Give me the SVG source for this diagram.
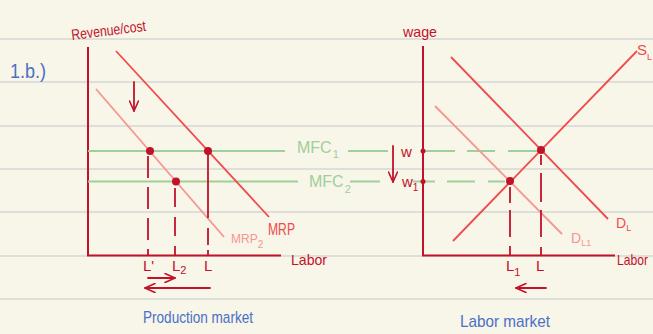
<svg xmlns="http://www.w3.org/2000/svg" width="653" height="334" viewBox="0 0 653 334">
  <defs>
    <marker id="head" viewBox="0 0 12 10" refX="11" refY="5" markerWidth="12" markerHeight="10" markerUnits="userSpaceOnUse" orient="auto">
      <path d="M1,0.5 L11,5 L1,9.5" fill="none" stroke="#c2122a" stroke-width="1.6" stroke-linecap="round" stroke-linejoin="round"/>
    </marker>
  </defs>
  <style>
    .rule { stroke: #d6d6d4; stroke-width: 1.6; }
    .axis { stroke: #c2122a; stroke-width: 2; fill: none; }
    .ink { stroke: #c2122a; stroke-width: 1.8; fill: none; stroke-linecap: round; }
    .dash { stroke: #c2122a; stroke-width: 1.8; fill: none; }
    .curve { stroke: #f04b4b; stroke-width: 1.8; fill: none; }
    .curve2 { stroke: #f7958f; stroke-width: 1.8; fill: none; }
    .mfc { stroke: #9fd09a; stroke-width: 2; fill: none; }
    .dot { fill: #c2122a; }
    text { font-family: "Liberation Sans", Arial, sans-serif; }
    .lbl { fill: #c2122a; font-size: 15px; }
    .red { fill: #f04b4b; }
    .pink { fill: #f7958f; }
    .green { fill: #9fd09a; font-size: 16px; }
    .blue { fill: #4a70c6; }
  </style>

  <!-- notebook paper -->
  <rect width="653" height="334" fill="#f8f5e9"/>
  <g id="ruling">
    <line class="rule" x1="0" y1="39" x2="653" y2="39"/>
    <line class="rule" x1="0" y1="82" x2="653" y2="82"/>
    <line class="rule" x1="0" y1="126" x2="653" y2="126"/>
    <line class="rule" x1="0" y1="169" x2="653" y2="169"/>
    <line class="rule" x1="0" y1="212" x2="653" y2="212"/>
    <line class="rule" x1="0" y1="256" x2="653" y2="256"/>
    <line class="rule" x1="0" y1="299" x2="653" y2="299"/>
  </g>

  <text id="part" class="blue" x="10" y="78" font-size="20" textLength="36" lengthAdjust="spacingAndGlyphs">1.b.)</text>

  <!-- production market -->
  <g id="production-axes">
    <path class="axis" d="M88,47 V255.5 H281"/>
    <text class="lbl" x="0" y="0" font-size="15" transform="translate(72,40) rotate(-7)" textLength="75" lengthAdjust="spacingAndGlyphs">Revenue/cost</text>
    <text class="lbl" x="291" y="265" font-size="18" textLength="36" lengthAdjust="spacingAndGlyphs">Labor</text>
  </g>

  <g id="mfc-lines">
    <line class="mfc" x1="88" y1="151" x2="285" y2="151"/>
    <line class="mfc" x1="88" y1="181.5" x2="298" y2="181.5"/>
    <text class="green" x="297" y="153">MFC<tspan dx="1" dy="5" font-size="11">1</tspan></text>
    <text class="green" x="309" y="187">MFC<tspan dx="1" dy="6" font-size="11">2</tspan></text>
    <line class="mfc" x1="348" y1="151" x2="388" y2="151"/>
    <line class="mfc" x1="350" y1="181.5" x2="380" y2="181.5"/>
  </g>

  <g id="mrp">
    <line class="curve" x1="116" y1="51" x2="269" y2="217"/>
    <text class="red" x="268" y="235" font-size="16" textLength="27" lengthAdjust="spacingAndGlyphs">MRP</text>
  </g>
  <g id="mrp2">
    <line class="curve2" x1="96" y1="89" x2="224" y2="237"/>
    <text class="pink" x="231" y="243" font-size="12">MRP<tspan dy="5" font-size="10">2</tspan></text>
  </g>

  <g id="production-points">
    <path class="dash" d="M148,156 V256" stroke-dasharray="22 9"/>
    <path class="dash" d="M175,188 V256" stroke-dasharray="19 10"/>
    <path class="dash" d="M208,154 V218 M208,228 V245 M208,250 V256"/>
    <circle class="dot" cx="150" cy="151" r="4"/>
    <circle class="dot" cx="208" cy="151" r="4"/>
    <circle class="dot" cx="176" cy="181.5" r="4"/>
    <text class="lbl" x="143" y="271" font-size="15">L'</text>
    <text class="lbl" x="172" y="271" font-size="15">L<tspan dy="3" font-size="11">2</tspan></text>
    <text class="lbl" x="204" y="271" font-size="15">L</text>
  </g>

  <g id="production-arrows">
    <line class="ink" x1="134" y1="82" x2="134" y2="111" marker-end="url(#head)"/>
    <line class="ink" x1="148" y1="278" x2="175" y2="278" marker-end="url(#head)"/>
    <line class="ink" x1="210" y1="288" x2="145" y2="288" marker-end="url(#head)"/>
  </g>

  <text id="production-title" class="blue" x="143" y="323" font-size="17" textLength="110" lengthAdjust="spacingAndGlyphs">Production market</text>

  <!-- labor market -->
  <g id="labor-axes">
    <path class="axis" d="M423,46 V255.5 H615"/>
    <text class="lbl" x="403" y="37" font-size="17" textLength="34" lengthAdjust="spacingAndGlyphs">wage</text>
    <text class="lbl" x="617" y="265" font-size="17" textLength="31" lengthAdjust="spacingAndGlyphs">Labor</text>
  </g>

  <g id="wage-lines">
    <path class="mfc" d="M425,151 H455 M467,151 H495 M508,151 H538"/>
    <path class="mfc" d="M413,181.5 H435 M447,181.5 H475 M488,181.5 H505"/>
    <line class="ink" x1="393" y1="146" x2="393" y2="182" marker-end="url(#head)"/>
    <text class="lbl" x="401" y="157" font-size="14">w</text>
    <text class="lbl" x="402" y="187" font-size="14">w<tspan dy="4" font-size="10">1</tspan></text>
    <circle class="dot" cx="423" cy="151" r="2.5"/>
    <circle class="dot" cx="423" cy="181.5" r="2.5"/>
  </g>

  <g id="supply">
    <line class="curve" x1="453" y1="241" x2="637" y2="51"/>
    <text class="red" x="637" y="55" font-size="15">S<tspan dy="5" font-size="9">L</tspan></text>
  </g>
  <g id="demand">
    <line class="curve" x1="451" y1="57" x2="608" y2="219"/>
    <text class="red" x="616" y="228" font-size="14">D<tspan dy="3" font-size="9">L</tspan></text>
  </g>
  <g id="demand1">
    <line class="curve2" x1="435" y1="106" x2="562" y2="234"/>
    <text class="pink" x="571" y="243" font-size="14">D<tspan dy="3" font-size="9">L1</tspan></text>
  </g>

  <g id="labor-points">
    <path class="dash" d="M541,155 V165 M541,173 V202 M541,210 V237 M541,247 V256"/>
    <path class="dash" d="M510,187 V203 M510,210 V237 M510,246 V256"/>
    <circle class="dot" cx="541" cy="150" r="4"/>
    <circle class="dot" cx="510" cy="181" r="4"/>
    <text class="lbl" x="506" y="271" font-size="15">L<tspan dy="5" font-size="11">1</tspan></text>
    <text class="lbl" x="536" y="271" font-size="15">L</text>
    <line class="ink" x1="546" y1="288" x2="516" y2="288" marker-end="url(#head)"/>
  </g>

  <text id="labor-title" class="blue" x="460" y="327" font-size="17" textLength="90" lengthAdjust="spacingAndGlyphs">Labor market</text>
</svg>
